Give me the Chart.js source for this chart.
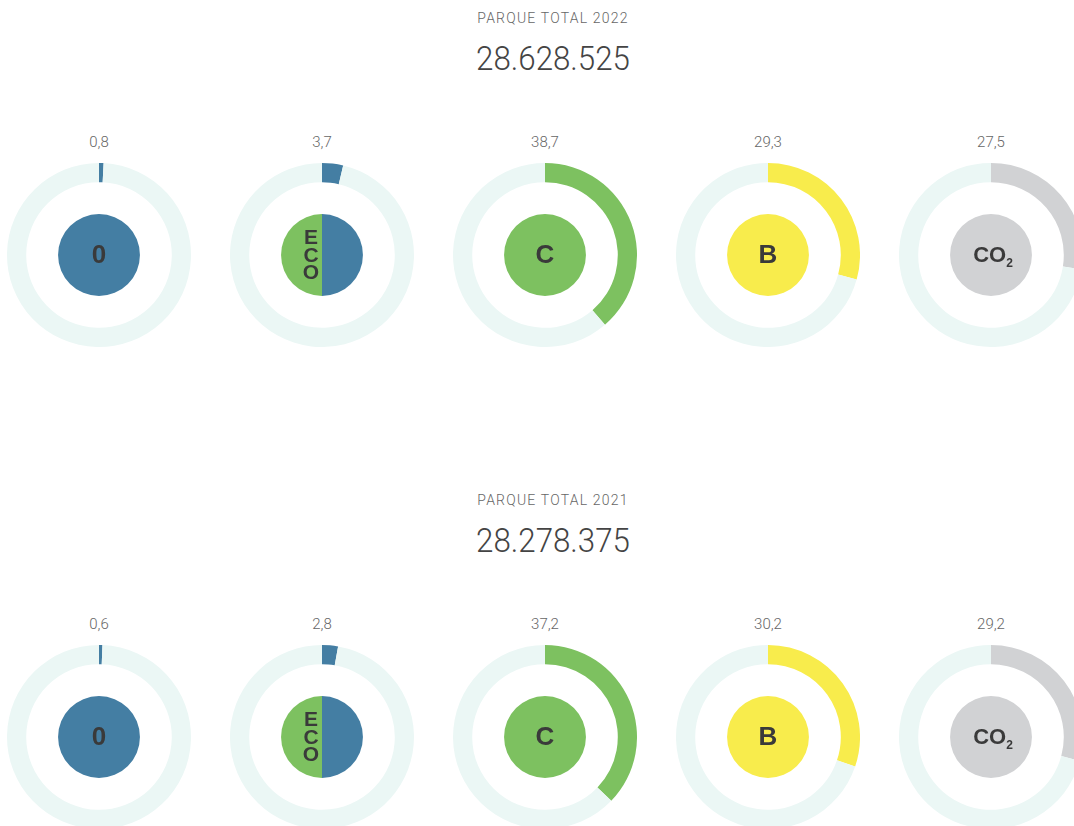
<!DOCTYPE html>
<html lang="es">
<head>
<meta charset="utf-8">
<title>Parque total por distintivo ambiental</title>
<script src="https://cdn.jsdelivr.net/npm/chart.js@4.4.1/dist/chart.umd.min.js"></script>
<style>
  html, body { margin: 0; padding: 0; background: #fff; overflow: hidden; }
  body { width: 1074px; height: 826px; position: relative; font-family: Roboto, "Liberation Sans", sans-serif; }
  .titulo, .total, .valor { position: absolute; transform: translateX(-50%); white-space: nowrap; }
  .titulo { font-size: 14px; font-weight: 300; color: #666; letter-spacing: 1.2px; }
  .total { font-size: 34px; font-weight: 300; color: #444; transform: translateX(-50%) scaleX(0.92); }
  .valor { font-size: 15px; font-weight: 300; color: #666; }
  canvas { position: absolute; }
</style>
</head>
<body>
<script>
const categorias = ['0', 'ECO', 'C', 'B', 'CO2'];
const anios = ['2022', '2021'];
const totales = ['28.628.525', '28.278.375'];
const cuota2022 = [0.8, 3.7, 38.7, 29.3, 27.5];
const cuota2021 = [0.6, 2.8, 37.2, 30.2, 29.2];
const cuotas = [cuota2022, cuota2021];

const AZUL = '#447ea3';
const VERDE = '#7dc160';
const AMARILLO = '#f8ec4c';
const GRIS = '#d1d2d4';
const PISTA = '#ebf7f5';
const coloresArco = [AZUL, AZUL, VERDE, AMARILLO, GRIS];

// etiqueta dentro del circulo central
const etiquetaCentro = {
    id: 'etiquetaCentro',
    afterDatasetsDraw(chart, args, opts) {
        const arco = chart.getDatasetMeta(0).data[0];
        const cx = arco.x, cy = arco.y;
        const ctx = chart.ctx;
        ctx.save();
        ctx.fillStyle = '#3a3a3a';
        ctx.textAlign = 'center';
        ctx.textBaseline = 'middle';
        if (opts.texto === 'ECO') {
            ctx.font = 'bold 21px "Liberation Sans", Arial, sans-serif';
            ['E', 'C', 'O'].forEach((l, i) => ctx.fillText(l, cx - 11, cy + 1 + (i - 1) * 17.5));
        } else if (opts.texto === 'CO2') {
            ctx.font = 'bold 22px "Liberation Sans", Arial, sans-serif';
            const w = ctx.measureText('CO').width;
            ctx.font = 'bold 12px "Liberation Sans", Arial, sans-serif';
            const w2 = ctx.measureText('2').width;
            const x0 = cx + 2 - (w + w2) / 2;
            ctx.textAlign = 'left';
            ctx.font = 'bold 22px "Liberation Sans", Arial, sans-serif';
            ctx.fillText('CO', x0, cy + 1);
            ctx.font = 'bold 12px "Liberation Sans", Arial, sans-serif';
            ctx.fillText('2', x0 + w, cy + 9);
        } else {
            ctx.font = 'bold 26px "Liberation Sans", Arial, sans-serif';
            ctx.fillText(opts.texto, cx, cy + 1);
        }
        ctx.restore();
    },
};

function texto(clase, txt, x, y) {
    const el = document.createElement('div');
    el.className = clase;
    el.textContent = txt;
    el.style.left = x + 'px';
    el.style.top = y + 'px';
    document.body.appendChild(el);
}

function anillo(cx, cy, valor, i) {
    const lado = 184;
    const canvas = document.createElement('canvas');
    canvas.width = lado;
    canvas.height = lado;
    canvas.style.left = (cx - lado / 2) + 'px';
    canvas.style.top = (cy - lado / 2) + 'px';
    document.body.appendChild(canvas);

    const eco = categorias[i] === 'ECO';
    new Chart(canvas, {
        type: 'doughnut',
        data: {
            labels: ['valor', 'resto'],
            datasets: [
                { data: [valor, 100 - valor], backgroundColor: [coloresArco[i], PISTA], weight: 19 },
                { data: [1], backgroundColor: ['rgba(0,0,0,0)'], weight: 31.5 },
                {
                    data: eco ? [50, 50] : [100],
                    backgroundColor: eco ? [AZUL, VERDE] : [coloresArco[i]],
                    weight: 40.5,
                },
            ],
        },
        options: {
            responsive: false,
            animation: false,
            events: [],
            cutout: 0,
            layout: { padding: 0 },
            elements: { arc: { borderWidth: 0, hoverOffset: 0, offset: 0 } },
            plugins: {
                legend: { display: false },
                tooltip: { enabled: false },
                etiquetaCentro: { texto: categorias[i] },
            },
        },
        plugins: [etiquetaCentro],
    });
}

const filaY = [254.5, 737];
const columnasX = [99, 322, 545, 768, 991];

anios.forEach((anio, f) => {
    const y = filaY[f];
    texto('titulo', 'PARQUE TOTAL ' + anio, 553, y - 245);
    texto('total', totales[f], 553, y - 217);
    cuotas[f].forEach((v, i) => {
        texto('valor', String(v).replace('.', ','), columnasX[i], y - 122);
        anillo(columnasX[i], y, v, i);
    });
});
</script>
</body>
</html>
